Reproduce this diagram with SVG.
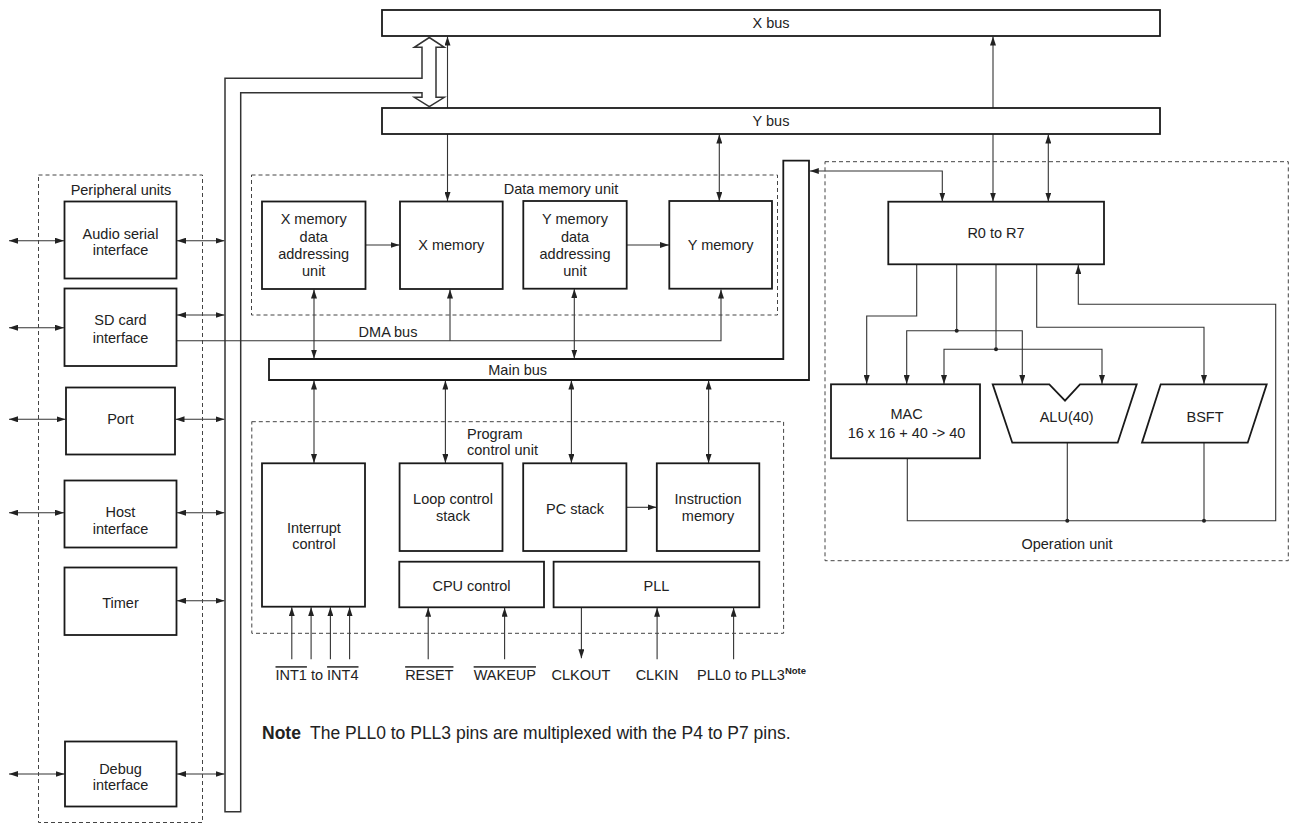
<svg xmlns="http://www.w3.org/2000/svg" width="1293" height="825" viewBox="0 0 1293 825">
<defs>
<marker id="a" viewBox="0 0 9 6" refX="9" refY="3" markerWidth="9" markerHeight="6" markerUnits="userSpaceOnUse" orient="auto-start-reverse"><path d="M0,0 L9,3 L0,6 z" fill="#222"/></marker>
<style>
text{font-family:"Liberation Sans",Arial,Helvetica,sans-serif;font-size:14.5px;fill:#222;text-anchor:middle}
.box{fill:#fff;stroke:#1a1a1a;stroke-width:1.8}
.bus{fill:#fff;stroke:#1a1a1a;stroke-width:1.8}
.dash{fill:none;stroke:#444;stroke-width:1;stroke-dasharray:4 3}
.c{fill:none;stroke:#333;stroke-width:1.1}
.e{marker-end:url(#a)}
.b{marker-start:url(#a);marker-end:url(#a)}
.dot{fill:#222}
.ov{text-decoration:overline}
</style>
</defs>
<rect width="1293" height="825" fill="#fff"/>

<g id="connectors">
  <path class="c b" d="M447.5,36.5 V201"/>
  <path class="c b" d="M993,36.5 V201.5"/>
  <path class="c b" d="M719.3,134.5 V201"/>
  <path class="c b" d="M1048.3,134.5 V201.5"/>
  <path class="c b" d="M9,240.7 H64"/>
  <path class="c b" d="M177,240.7 H224.5"/>
  <path class="c b" d="M9,327.7 H64"/>
  <path class="c b" d="M177,315 H224.5"/>
  <path class="c b" d="M9,419.3 H65.5"/>
  <path class="c b" d="M175.5,419.3 H224.5"/>
  <path class="c b" d="M9,512.7 H64"/>
  <path class="c b" d="M177,512.7 H224.5"/>
  <path class="c b" d="M177,600.7 H224.5"/>
  <path class="c b" d="M9,774 H64.5"/>
  <path class="c b" d="M177,774 H224.5"/>
  <path class="c e" d="M365.5,245 H399.5"/>
  <path class="c e" d="M627,245 H669"/>
  <path class="c b" d="M314,289.5 V358.5"/>
  <path class="c b" d="M574.3,289 V358.5"/>
  <path class="c b" d="M314,380.5 V463"/>
  <path class="c b" d="M445.4,380.5 V463"/>
  <path class="c b" d="M571.4,380.5 V463"/>
  <path class="c b" d="M708.6,380.5 V463"/>
  <path class="c e" d="M626.6,507.3 H656.5"/>
  <path class="c e" d="M291.8,659.3 V607.2"/>
  <path class="c e" d="M311.1,659.3 V607.2"/>
  <path class="c e" d="M330.4,659.3 V607.2"/>
  <path class="c e" d="M349.6,659.3 V607.2"/>
  <path class="c e" d="M428.2,659.3 V607.8"/>
  <path class="c e" d="M504.6,659.3 V607.8"/>
  <path class="c e" d="M581.4,607.8 V658.3"/>
  <path class="c e" d="M657.1,659.3 V607.8"/>
  <path class="c e" d="M733.6,659.3 V607.8"/>
  <path class="c b" d="M809.8,171 H942.3 V201.5"/>
  <path class="c e" d="M916.7,264.3 V316 H866.7 V384"/>
  <path class="c" d="M956.7,264.3 V330.7"/>
  <path class="c e" d="M956.7,330.7 H906.7 V384"/>
  <path class="c e" d="M956.7,330.7 H1022.3 V384"/>
  <path class="c" d="M996,264.3 V349.3"/>
  <path class="c e" d="M996,349.3 H944 V384"/>
  <path class="c e" d="M996,349.3 H1102 V384"/>
  <path class="c e" d="M1036.7,264.3 V327.3 H1204 V384"/>
  <path class="c e" d="M907.3,458.3 V520.7 H1275.7 V304.3 H1078.3 V265"/>
  <path class="c" d="M1067.3,442.7 V520.7"/>
  <path class="c" d="M1204,442.7 V520.7"/>
  <circle class="dot" cx="956.7" cy="330.7" r="2"/>
  <circle class="dot" cx="996" cy="349.3" r="2"/>
  <circle class="dot" cx="1067.3" cy="520.7" r="2"/>
  <circle class="dot" cx="1204" cy="520.7" r="2"/>
</g>

<g id="xbus">
  <rect class="bus" x="382" y="10" width="778" height="26"/>
  <text x="771" y="28">X bus</text>
</g>
<g id="ybus">
  <rect class="bus" x="382" y="108" width="778" height="26"/>
  <text x="771" y="126">Y bus</text>
</g>
<g id="hollow-bus">
  <path d="M429.3,37.5 L444.3,47.3 L436,47.3 L436,97.3 L444.3,97.3 L429.3,106.7 L414.3,97.3 L422,97.3 L422,92.7 L240.7,92.7 L240.7,811.7 L225,811.7 L225,78.3 L422,78.3 L422,47.3 L414.3,47.3 Z" fill="#fff" stroke="#333" stroke-width="1.5"/>
</g>
<g id="dma-bus">
  <path class="c e" d="M176.3,340.7 H721 V289.5"/>
  <path class="c e" d="M450,340.7 V289.5"/>
  <text x="388" y="337">DMA bus</text>
</g>
<g id="main-bus">
  <path class="bus" d="M269,359 H783.3 V160.7 H809 V380 H269 Z"/>
  <text x="517.7" y="375.2">Main bus</text>
</g>

<g id="peripheral-units">
  <rect class="dash" x="38.5" y="175" width="164" height="647.5"/>
  <text x="121" y="195">Peripheral units</text>
</g>
<g id="audio">
  <rect class="box" x="64.5" y="201.5" width="112" height="77"/>
  <text x="120.5" y="238.5">Audio serial</text>
  <text x="120.5" y="255.2">interface</text>
</g>
<g id="sdcard">
  <rect class="box" x="64.5" y="288.5" width="112" height="77.5"/>
  <text x="120.5" y="325.2">SD card</text>
  <text x="120.5" y="342.5">interface</text>
</g>
<g id="port">
  <rect class="box" x="66" y="387.5" width="109" height="67"/>
  <text x="120.5" y="423.5">Port</text>
</g>
<g id="host">
  <rect class="box" x="64.5" y="480.5" width="112" height="67"/>
  <text x="120.5" y="517">Host</text>
  <text x="120.5" y="533.5">interface</text>
</g>
<g id="timer">
  <rect class="box" x="64.5" y="567.5" width="112" height="67.5"/>
  <text x="120.5" y="608">Timer</text>
</g>
<g id="debug">
  <rect class="box" x="65" y="741.5" width="111.5" height="65"/>
  <text x="120.5" y="773.5">Debug</text>
  <text x="120.5" y="790">interface</text>
</g>

<g id="data-memory-unit">
  <rect class="dash" x="251.5" y="175" width="526" height="140"/>
  <text x="561" y="194">Data memory unit</text>
</g>
<g id="x-addr">
  <rect class="box" x="262" y="201.5" width="103.5" height="87.5"/>
  <text x="313.7" y="224.2">X memory</text>
  <text x="313.7" y="241.7">data</text>
  <text x="313.7" y="259">addressing</text>
  <text x="313.7" y="276.4">unit</text>
</g>
<g id="x-memory">
  <rect class="box" x="400" y="201.5" width="102.7" height="87.5"/>
  <text x="451.3" y="249.5">X memory</text>
</g>
<g id="y-addr">
  <rect class="box" x="523.3" y="201" width="103.4" height="87.7"/>
  <text x="575" y="224.2">Y memory</text>
  <text x="575" y="241.7">data</text>
  <text x="575" y="259">addressing</text>
  <text x="575" y="276.4">unit</text>
</g>
<g id="y-memory">
  <rect class="box" x="669.3" y="201" width="102.7" height="87.7"/>
  <text x="720.6" y="249.5">Y memory</text>
</g>

<g id="program-control-unit">
  <rect class="dash" x="251.8" y="421.7" width="531.8" height="211.6"/>
  <text x="467" y="438.5" style="text-anchor:start">Program</text>
  <text x="467" y="455.2" style="text-anchor:start">control unit</text>
</g>
<g id="interrupt">
  <rect class="box" x="262" y="463.3" width="103" height="143.4"/>
  <text x="313.9" y="532.9">Interrupt</text>
  <text x="313.9" y="549.2">control</text>
</g>
<g id="loop">
  <rect class="box" x="399.6" y="463.3" width="102.9" height="87.7"/>
  <text x="453" y="503.5">Loop control</text>
  <text x="453" y="521.2">stack</text>
</g>
<g id="pcstack">
  <rect class="box" x="523.2" y="463.3" width="103.2" height="87.7"/>
  <text x="575" y="513.5">PC stack</text>
</g>
<g id="instr">
  <rect class="box" x="656.8" y="463.3" width="102.5" height="87.7"/>
  <text x="708" y="503.5">Instruction</text>
  <text x="708" y="521.2">memory</text>
</g>
<g id="cpu-control">
  <rect class="box" x="399.3" y="561.7" width="144.7" height="45.6"/>
  <text x="471.5" y="591.2">CPU control</text>
</g>
<g id="pll">
  <rect class="box" x="553.6" y="561.7" width="205.7" height="45.6"/>
  <text x="656.5" y="591.2">PLL</text>
</g>

<g id="pins">
  <text x="317" y="680.2"><tspan class="ov">INT1</tspan> to <tspan class="ov">INT4</tspan></text>
  <text x="429.3" y="680.2"><tspan class="ov">RESET</tspan></text>
  <text x="504.8" y="680.2"><tspan class="ov">WAKEUP</tspan></text>
  <text x="581" y="680.2">CLKOUT</text>
  <text x="657" y="680.2">CLKIN</text>
  <text x="697" y="680.2" style="text-anchor:start">PLL0 to PLL3<tspan dy="-6" style="font-size:9.5px;font-weight:bold">Note</tspan></text>
</g>

<g id="operation-unit">
  <rect class="dash" x="825" y="161.7" width="463.3" height="399"/>
  <text x="1067" y="548.5">Operation unit</text>
</g>
<g id="r0r7">
  <rect class="box" x="888.3" y="201.7" width="215.7" height="62.6"/>
  <text x="996" y="237.9">R0 to R7</text>
</g>
<g id="mac">
  <rect class="box" x="831" y="384.3" width="149" height="74"/>
  <text x="906.5" y="419.2">MAC</text>
  <text x="906.5" y="437.5">16 x 16 + 40 -&gt; 40</text>
</g>
<g id="alu">
  <polygon class="box" points="992.7,384.3 1049.3,384.3 1065,400.7 1080,384.3 1136.7,384.3 1117.7,442.7 1012.3,442.7"/>
  <text x="1066.7" y="421.9">ALU(40)</text>
</g>
<g id="bsft">
  <polygon class="box" points="1160.7,384.3 1266.7,384.3 1247.7,442.7 1142,442.7"/>
  <text x="1205" y="421.9">BSFT</text>
</g>

<g id="note">
  <text x="262" y="738.5" style="text-anchor:start;font-size:17.5px"><tspan style="font-weight:bold">Note</tspan><tspan x="310">The PLL0 to PLL3 pins are multiplexed with the P4 to P7 pins.</tspan></text>
</g>
</svg>
